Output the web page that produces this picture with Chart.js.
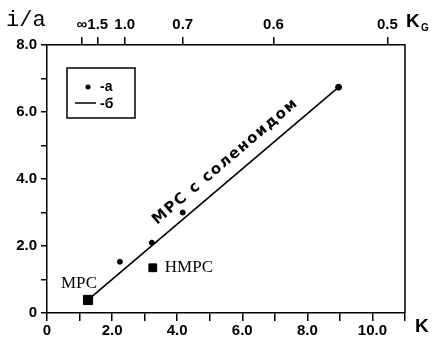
<!DOCTYPE html>
<html>
<head>
<meta charset="utf-8">
<script src="https://cdn.jsdelivr.net/npm/chart.js@4.4.1/dist/chart.umd.min.js"></script>
<style>
  html, body { margin: 0; padding: 0; background: #fff; }
  #wrap { width: 432px; height: 341px; position: relative; }
</style>
</head>
<body>
<div id="wrap"><canvas id="chart" width="432" height="341"></canvas></div>
<script>
// measured points (a)
const kPoints = [2.24, 3.22, 4.17, 8.96];
const iaPoints = [1.53, 2.1, 3.0, 6.74];

// fitted line (b)
const kLine = [1.26, 8.96];
const iaLine = [0.39, 6.74];

// single systems
const kMrs = [1.26];
const iaMrs = [0.39];
const kNmrs = [3.25];
const iaNmrs = [1.35];

// top axis K_G
const kgPositions = [1.07, 1.56, 2.39, 4.17, 6.96, 10.46];
const kgLabels = ["∞", "1.5", "1.0", "0.7", "0.6", "0.5"];

const yLabels = { 0: "0", 2: "2.0", 4: "4.0", 6: "6.0", 8: "8.0" };
const xLabels = { 0: "0", 2: "2.0", 4: "4.0", 6: "6.0", 8: "8.0", 10: "10.0" };

const toXY = (xs, ys) => xs.map((x, i) => ({ x: x, y: ys[i] }));

const tickFont = { family: "Liberation Sans", size: 15, weight: "bold" };

const extras = {
  id: "extras",
  afterDraw(chart) {
    const ctx = chart.ctx;
    const area = chart.chartArea;
    const xs = chart.scales.x;
    const ys = chart.scales.y;
    ctx.save();
    ctx.fillStyle = "#000";
    ctx.strokeStyle = "#000";

    // right frame
    ctx.lineWidth = 1.5;
    ctx.beginPath();
    ctx.moveTo(area.right, area.top);
    ctx.lineTo(area.right, area.bottom);
    ctx.stroke();

    // axis titles
    ctx.font = "22px 'Liberation Mono'";
    ctx.textAlign = "left";
    ctx.textBaseline = "middle";
    ctx.fillText("i/a", 6, 20);
    ctx.font = "bold 19px 'Liberation Sans'";
    ctx.fillText("K", 406, 22);
    ctx.fillText("K", 415, 327);
    ctx.font = "bold 10px 'Liberation Sans'";
    ctx.fillText("G", 421, 28);

    // legend
    ctx.lineWidth = 1.5;
    ctx.strokeRect(67, 68, 68, 50);
    ctx.beginPath();
    ctx.arc(88, 87, 2.5, 0, Math.PI * 2);
    ctx.fill();
    ctx.beginPath();
    ctx.moveTo(75, 103);
    ctx.lineTo(96, 103);
    ctx.stroke();
    ctx.font = "bold 14px 'Liberation Sans'";
    ctx.fillText("-а", 100, 87);
    ctx.fillText("-б", 100, 104);

    // labels
    ctx.font = "17px 'Liberation Serif'";
    ctx.textAlign = "right";
    ctx.fillText("МРС", 97, ys.getPixelForValue(iaMrs[0]) - 16);
    ctx.textAlign = "left";
    ctx.fillText("НМРС", xs.getPixelForValue(kNmrs[0]) + 12, ys.getPixelForValue(iaNmrs[0]));

    // label along the line
    const x1 = xs.getPixelForValue(kLine[0]), y1 = ys.getPixelForValue(iaLine[0]);
    const x2 = xs.getPixelForValue(kLine[1]), y2 = ys.getPixelForValue(iaLine[1]);
    const ang = Math.atan2(y2 - y1, x2 - x1);
    const t = 0.6;
    ctx.translate(x1 + (x2 - x1) * t - 8, y1 + (y2 - y1) * t - 5);
    ctx.rotate(ang);
    ctx.font = "bold 15px 'DejaVu Sans'";
    ctx.letterSpacing = "1.5px";
    ctx.textAlign = "center";
    ctx.textBaseline = "bottom";
    ctx.fillText("МРС с соленоидом", 0, 0);
    ctx.restore();
  }
};

new Chart(document.getElementById("chart"), {
  type: "scatter",
  data: {
    datasets: [
      {
        label: "а",
        data: toXY(kPoints, iaPoints),
        backgroundColor: "#000",
        borderColor: "#000",
        pointRadius: [2.5, 2.5, 2.5, 3]
      },
      {
        label: "МРС",
        data: toXY(kMrs, iaMrs).concat(toXY(kNmrs, iaNmrs)),
        pointStyle: "rect",
        backgroundColor: "#000",
        borderColor: "#000",
        pointRadius: [6.5, 5.5]
      },
      {
        label: "б",
        data: toXY(kLine, iaLine),
        showLine: true,
        borderColor: "#000",
        borderWidth: 1.6,
        pointRadius: 0
      }
    ]
  },
  options: {
    responsive: false,
    animation: false,
    layout: { padding: { left: 0, right: 27, top: 0, bottom: 0 } },
    plugins: { legend: { display: false }, tooltip: { enabled: false } },
    scales: {
      x: {
        type: "linear",
        position: "bottom",
        min: 0,
        max: 11,
        afterFit(s) { s.height = 28; },
        border: { color: "#000", width: 1.5 },
        grid: { drawOnChartArea: false, color: "#000", tickLength: 8, lineWidth: 1.5 },
        ticks: {
          stepSize: 1,
          autoSkip: false,
          maxRotation: 0,
          padding: 1,
          color: "#000",
          font: tickFont,
          callback: (v) => (xLabels[v] !== undefined ? xLabels[v] : "")
        }
      },
      x2: {
        type: "linear",
        position: "top",
        min: 0,
        max: 11,
        afterFit(s) { s.height = 45; },
        afterBuildTicks(s) { s.ticks = kgPositions.map((v) => ({ value: v })); },
        border: { color: "#000", width: 1.5 },
        grid: { drawOnChartArea: false, color: "#000", tickLength: 8, lineWidth: 1.5 },
        ticks: {
          autoSkip: false,
          maxRotation: 0,
          padding: 3,
          color: "#000",
          font: tickFont,
          callback: (v, i) => kgLabels[i]
        }
      },
      y: {
        type: "linear",
        min: 0,
        max: 8,
        afterFit(s) { s.width = 47; },
        border: { color: "#000", width: 1.5 },
        grid: { drawOnChartArea: false, color: "#000", tickLength: 6, lineWidth: 1.5 },
        ticks: {
          stepSize: 1,
          autoSkip: false,
          padding: 4,
          color: "#000",
          font: tickFont,
          callback: (v) => (yLabels[v] !== undefined ? yLabels[v] : "")
        }
      }
    }
  },
  plugins: [extras]
});
</script>
</body>
</html>
